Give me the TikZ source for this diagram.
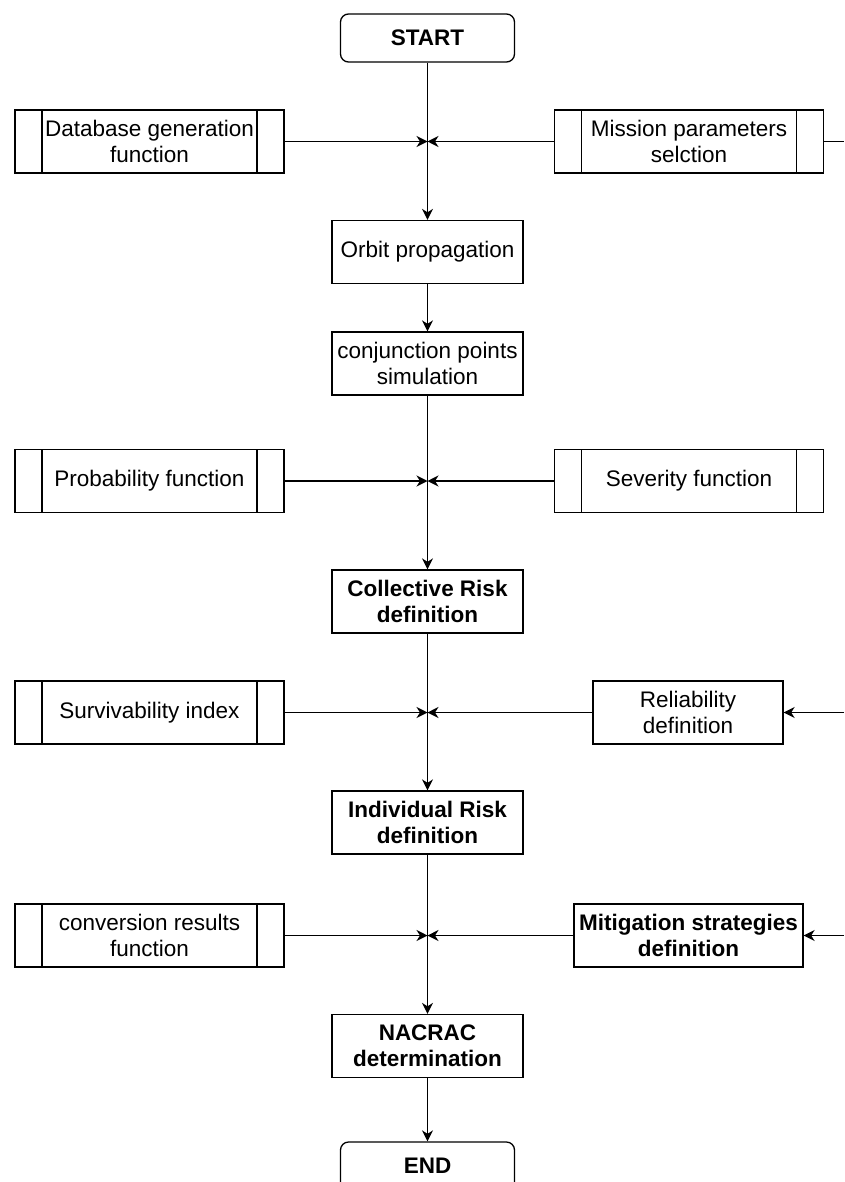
\documentclass[tikz,border=0pt]{standalone}
\usepackage{fontspec}
\setmainfont{Liberation Sans}
\usetikzlibrary{arrows.meta}
\begin{document}
\begin{tikzpicture}[x=1pt, y=-1pt, line width=1.3pt,
  font=\fontsize{22.5}{26}\selectfont,
  box/.style={draw, align=center, inner sep=1pt, minimum width=191pt, minimum height=63pt},
  bold/.style={font=\fontsize{22.5}{26}\selectfont\bfseries},
  term/.style={box, bold, rounded corners=8pt, minimum width=174pt, minimum height=48pt},
  sidebox/.style={box, minimum width=269pt},
  subproc/.style={sidebox, path picture={
      \draw ([xshift=27pt]path picture bounding box.north west) -- ([xshift=27pt]path picture bounding box.south west);
      \draw ([xshift=-27pt]path picture bounding box.north east) -- ([xshift=-27pt]path picture bounding box.south east);}},
  arr/.style={-{Stealth[length=11pt,width=11pt,inset=3.5pt]}}]
\useasboundingbox (0,0) rectangle (844,1182);

% main column
\node[term] (start) at (427.5,38) {START};
\node[box] (orbit) at (427.5,252) {Orbit propagation};
\node[box] (conj) at (427.5,363.5) {conjunction points\\simulation};
\node[box, bold] (crisk) at (427.5,601.5) {Collective Risk\\definition};
\node[box, bold] (irisk) at (427.5,822.5) {Individual Risk\\definition};
\node[box, bold] (nacrac) at (427.5,1046) {NACRAC\\determination};
\node[term] (end) at (427.5,1166) {END};

% inputs on both sides
\node[subproc] (db) at (149.5,141.5) {Database generation\\function};
\node[subproc] (mission) at (689,141.5) {Mission parameters\\selction};
\node[subproc] (prob) at (149.5,481) {Probability function};
\node[subproc] (sev) at (689,481) {Severity function};
\node[subproc] (surv) at (149.5,712.5) {Survivability index};
\node[box, minimum width=190pt] (rel) at (688,712.5) {Reliability\\definition};
\node[subproc] (conv) at (149.5,935.5) {conversion results\\function};
\node[box, bold, minimum width=229pt] (mitig) at (688.5,935.5) {Mitigation strategies\\definition};

% junctions on the main line
\coordinate (j1) at (427.5,141.5);
\coordinate (j2) at (427.5,481);
\coordinate (j3) at (427.5,712.5);
\coordinate (j4) at (427.5,935.5);
\coordinate (e1) at (844,141.5);
\coordinate (e3) at (844,712.5);
\coordinate (e4) at (844,935.5);

\draw[arr] (start) -- (orbit);
\draw[arr] (orbit) -- (conj);
\draw[arr] (conj) -- (crisk);
\draw[arr] (crisk) -- (irisk);
\draw[arr] (irisk) -- (nacrac);
\draw[arr] (nacrac) -- (end);

\draw[arr] (db) -- (j1);
\draw[arr] (mission) -- (j1);
\draw (mission) -- (e1);
\draw[arr] (prob) -- (j2);
\draw[arr] (sev) -- (j2);
\draw[arr] (surv) -- (j3);
\draw[arr] (rel) -- (j3);
\draw[arr] (e3) -- (rel);
\draw[arr] (conv) -- (j4);
\draw[arr] (mitig) -- (j4);
\draw[arr] (e4) -- (mitig);
\end{tikzpicture}
\end{document}
